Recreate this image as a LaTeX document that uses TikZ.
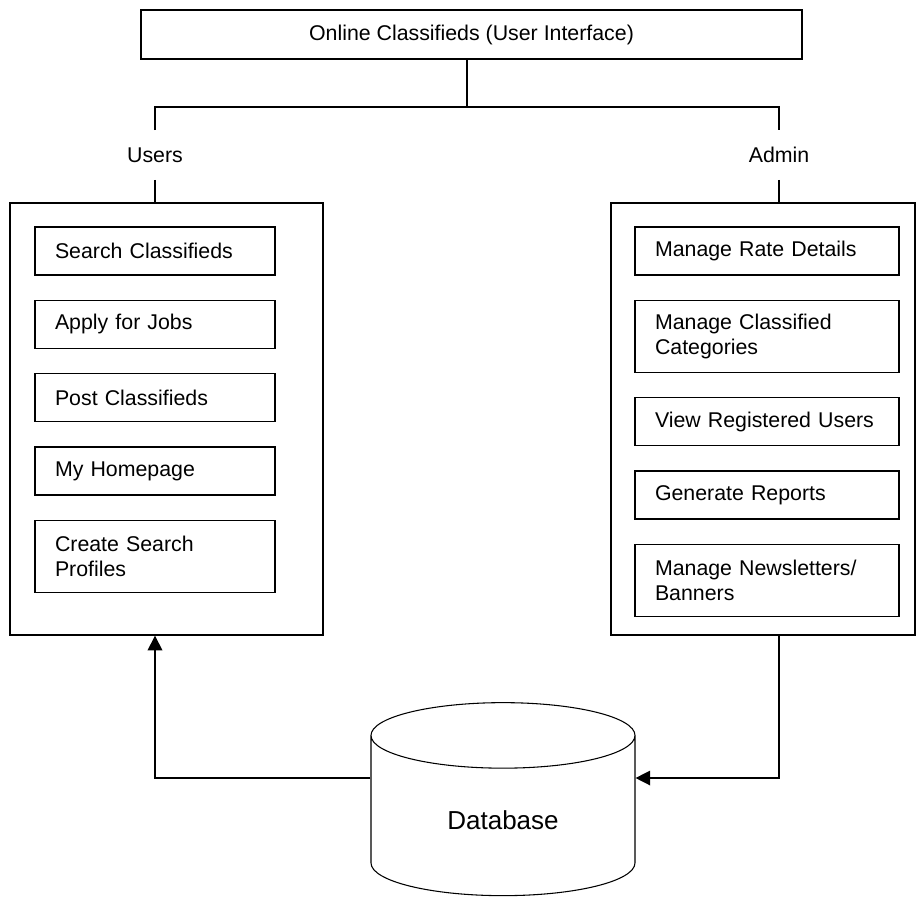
\documentclass[tikz,border=0pt]{standalone}
\usepackage{fontspec}
\setmainfont{Liberation Sans}
\usetikzlibrary{positioning,shapes.geometric,arrows.meta}
\tikzset{basic/.style={draw,line width=1pt,font=\fontsize{16}{18.4}\selectfont}}
\tikzset{title/.style={basic,minimum width=495.75pt,minimum height=36.75pt}}
\tikzset{panel/.style={basic,minimum height=324pt}}
\tikzset{item/.style={basic,align=left,inner xsep=15pt,minimum height=36pt}}
\tikzset{useritem/.style={item,text width=150pt}}
\tikzset{adminitem/.style={item,text width=168pt}}
\tikzset{role/.style={font=\fontsize{16}{18.4}\selectfont,minimum height=36.75pt,inner sep=0pt}}
\tikzset{store/.style={draw,line width=0.8pt,cylinder,shape border rotate=90,aspect=0.545,minimum width=198pt,minimum height=144.75pt,font=\fontsize{19.5}{22}\selectfont}}
\tikzset{link/.style={line width=1pt}}
\tikzset{arrow/.style={link,-{Triangle[length=11pt,width=11pt]}}}

\begin{document}
\begin{tikzpicture}[x=0.75pt,y=-0.75pt]
        \useasboundingbox (0,0) rectangle (916,896);
        \node[title] (ui) at (471.5,34.5) {Online Classifieds (User Interface)};
        \coordinate (bus) at (467,107);
        \node[role] (users) at (155,155) {Users};
        \node[role] (admin) at (779,155) {Admin};
            \draw[link] (ui.south -| bus) -- (bus);
            \draw[link] (users.north) |- (bus) -| (admin.north);
        \node[panel,minimum width=234.75pt] (userpanel) at (166.5,419) {};
        \node[panel,minimum width=228pt] (adminpanel) at (763,419) {};
            \draw[link] (users.south) -- (users.south |- userpanel.north);
            \draw[link] (admin.south) -- (admin.south |- adminpanel.north);
        % what a user can do
        \node[useritem,below right=18pt and 18.75pt of userpanel.north west] (search) {Search Classifieds};
        \node[useritem,below=18pt of search] (apply) {Apply for Jobs};
        \node[useritem,below=18pt of apply] (post) {Post Classifieds};
        \node[useritem,below=18pt of post] (home) {My Homepage};
        \node[useritem,below=18pt of home,minimum height=54pt] (profiles) {Create Search\\Profiles};
        % what the admin can do
        \node[adminitem,below right=18pt and 18pt of adminpanel.north west] (rates) {Manage Rate Details};
        \node[adminitem,below=18pt of rates,minimum height=54pt] (categories) {Manage Classified\\Categories};
        \node[adminitem,below=18pt of categories] (registered) {View Registered Users};
        \node[adminitem,below=18pt of registered] (reports) {Generate Reports};
        \node[adminitem,below=18pt of reports,minimum height=54pt] (banners) {Manage Newsletters/\\Banners};
        % storage
        \node[store] (database) at (503,820) {Database};
            \draw[arrow] ([yshift=31.5pt]database.west) -| (users.south |- userpanel.south);
            \draw[arrow] (admin.south |- adminpanel.south) |- ([yshift=31.5pt]database.east);
\end{tikzpicture}
\end{document}
